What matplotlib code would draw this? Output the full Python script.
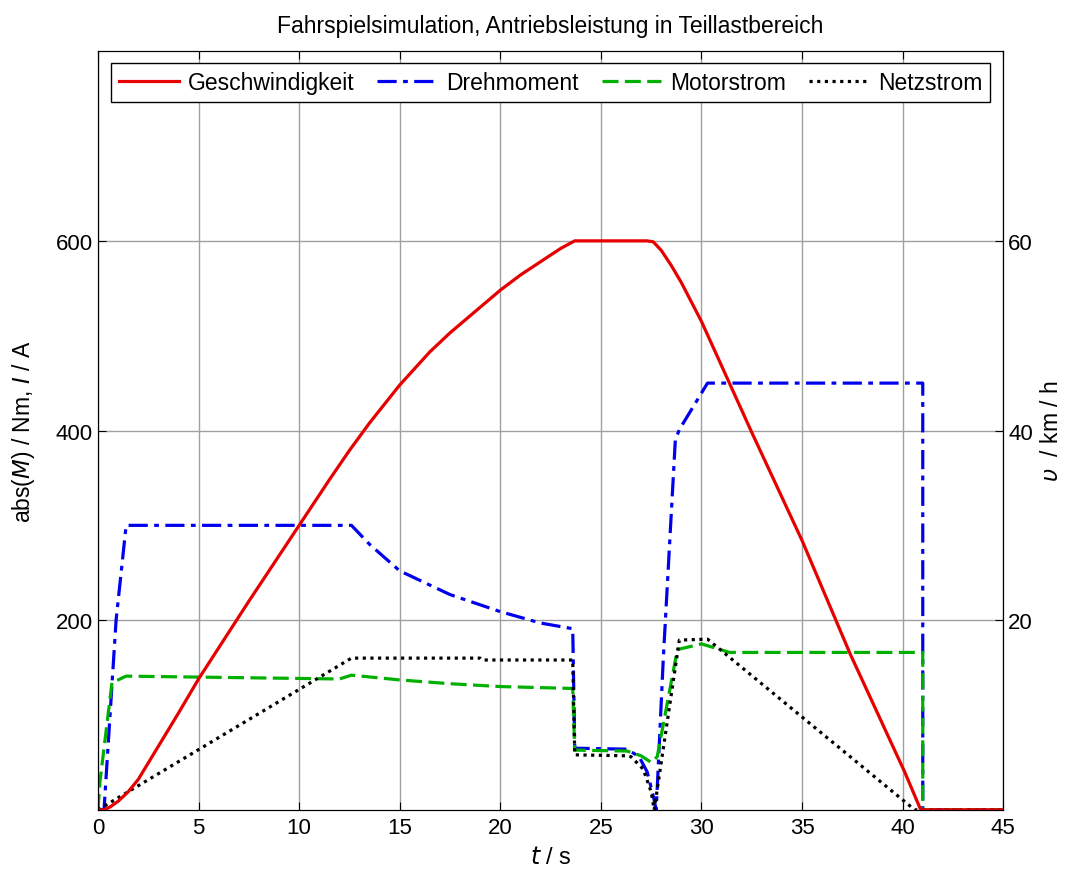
import numpy as np
import matplotlib
matplotlib.use("Agg")
import matplotlib.pyplot as plt

plt.rcParams['font.family'] = ['Liberation Sans', 'DejaVu Sans']

# Geschwindigkeit (km/h, right axis)
t_v = [0.0, 0.3, 0.6, 1.0, 1.5, 2.0, 3.0, 4.0, 5.0, 7.5, 10.0, 11.5, 12.5, 13.5, 15.0, 16.5, 17.5,
       19.0, 20.0, 21.0, 22.0, 23.0, 23.7, 27.3, 27.6, 28.0, 28.5, 29.0, 30.0, 32.5, 35.0, 37.4,
       40.1, 40.9, 45.0]
v = [0.0, 0.0, 0.3, 0.9, 1.9, 3.2, 6.7, 10.2, 13.8, 22.0, 30.0, 34.8, 37.9, 40.8, 44.8, 48.3, 50.3,
     53.0, 54.8, 56.4, 57.8, 59.2, 60.0, 60.0, 59.9, 59.0, 57.4, 55.6, 51.5, 39.8, 28.4, 16.4,
     4.0, 0.0, 0.0]

# Drehmoment (Nm)
t_m = [0.0, 0.3, 0.9, 1.4, 12.6, 13.5, 15.0, 17.5, 20.0, 22.0, 23.6, 23.7, 26.3, 26.9, 27.3,
       27.6, 27.75, 28.1, 28.7, 28.9, 30.3, 41.0, 41.0, 45.0]
m = [0.0, 0.0, 200.0, 300.0, 300.0, 280.0, 252.0, 227.0, 209.0, 197.0, 191.0, 65.0, 64.0, 56.0, 40.0,
     15.0, 0.0, 159.0, 390.0, 401.0, 450.0, 450.0, 0.0, 0.0]

# Motorstrom (A)
t_im = [0.0, 0.1, 0.7, 1.0, 1.4, 12.0, 12.6, 15.0, 17.5, 20.0, 23.6, 23.7, 26.3, 27.0, 27.5,
        27.8, 28.8, 30.0, 31.4, 41.0, 41.0, 45.0]
i_m = [0.0, 30.0, 135.0, 137.0, 141.0, 138.0, 142.0, 137.0, 133.0, 130.0, 128.0, 63.0, 62.0, 57.0, 50.0,
       56.0, 169.0, 175.0, 166.0, 166.0, 0.0, 0.0]

# Netzstrom (A)
t_in = [0.0, 12.6, 19.0, 19.1, 23.6, 23.7, 26.3, 26.5, 27.1, 27.5, 27.65, 28.9, 30.3, 40.6, 45.0]
i_n = [0.0, 160.0, 160.0, 158.0, 158.0, 58.0, 57.0, 56.0, 43.0, 19.0, 0.0, 179.0, 180.0, 0.0, 0.0]

fig = plt.figure(figsize=(10.65, 8.7), dpi=100)
ax = fig.add_axes([0.092, 0.068, 0.850, 0.872])
ax2 = ax.twinx()

lw = 2.3
l1, = ax2.plot(t_v, v, color='#e60000', lw=lw, label='Geschwindigkeit')
l2, = ax.plot(t_m, m, color='#0000ee', lw=lw, linestyle=(0, (6, 2, 1.5, 2)), label='Drehmoment')
l3, = ax.plot(t_im, i_m, color='#00b000', lw=lw, linestyle=(0, (5, 2)), label='Motorstrom')
l4, = ax.plot(t_in, i_n, color='black', lw=lw, linestyle=(0, (1, 1.4)), label='Netzstrom')

ax.set_xlim(0, 45)
ax.set_ylim(0, 800)
ax2.set_ylim(0, 80)
ax.set_xticks(np.arange(0, 46, 5))
ax.set_yticks([200, 400, 600])
ax2.set_yticks([20, 40, 60])
ax.grid(True, color='#a0a0a0', linewidth=1.0)

for a in (ax, ax2):
    a.tick_params(direction='in', labelsize=16, length=6, top=True)
ax.tick_params(axis='x', pad=5)

ax.set_title('Fahrspielsimulation, Antriebsleistung in Teillastbereich', fontsize=16.5, pad=14)
ax.set_xlabel('$t$ / s', fontsize=17, labelpad=6)
ax.set_ylabel('abs($M$) / Nm, $I$ / A', fontsize=16.5, labelpad=14)
ax2.set_ylabel('$\\upsilon$  / km / h', fontsize=16.5, labelpad=5)

leg = ax.legend(handles=[l1, l2, l3, l4], loc='upper center', ncol=4, fontsize=16.5,
                frameon=True, fancybox=False, edgecolor='black', framealpha=1,
                borderaxespad=0.5, handlelength=2.6, columnspacing=1.0, handletextpad=0.4,
                borderpad=0.35)
leg.get_frame().set_linewidth(1.0)

fig.savefig('out.png', dpi=100)
